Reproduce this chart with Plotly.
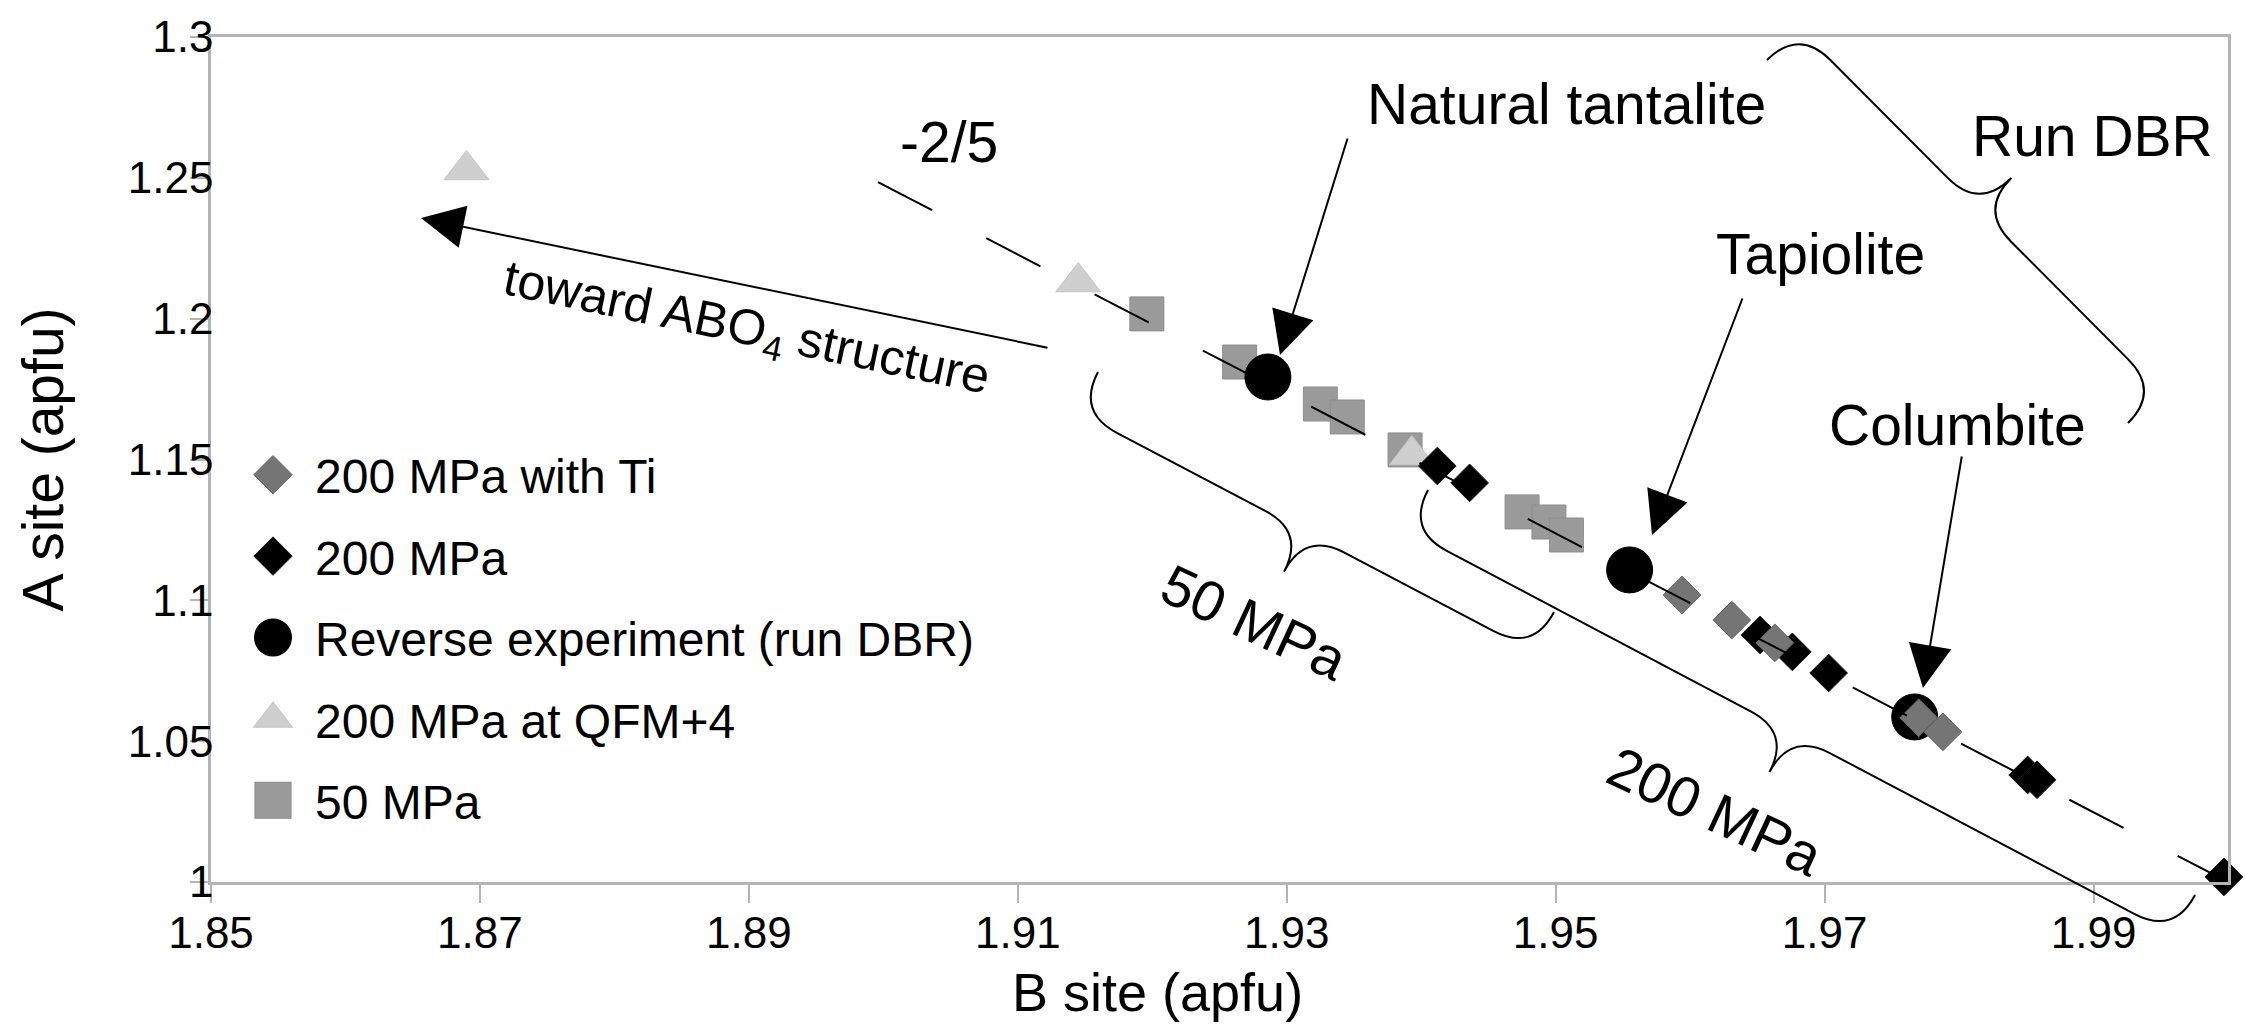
import math
import plotly.graph_objects as go

# ---------------- data ----------------
x_tick_vals = [1.85, 1.87, 1.89, 1.91, 1.93, 1.95, 1.97, 1.99]
x_tick_text = ["1.85", "1.87", "1.89", "1.91", "1.93", "1.95", "1.97", "1.99"]
y_tick_vals = [1.0, 1.05, 1.1, 1.15, 1.2, 1.25, 1.3]
y_tick_text = ["1", "1.05", "1.1", "1.15", "1.2", "1.25", "1.3"]

ti_B = [1.9594, 1.9631, 1.9663, 1.9770, 1.9788]
ti_A = [1.1019, 1.0930, 1.0849, 1.0583, 1.0533]

mpa200_B = [1.9412, 1.9436, 1.9652, 1.9676, 1.9703, 1.9851, 1.9858, 1.9997]
mpa200_A = [1.1477, 1.1417, 1.0877, 1.0817, 1.0742, 1.0380, 1.0363, 1.0018]

rev_B = [1.9286, 1.9555, 1.9767]
rev_A = [1.1793, 1.1108, 1.0586]

qfm_B = [1.8690, 1.9145, 1.9393]
qfm_A = [1.2528, 1.2130, 1.1516]

mpa50_B = [1.9196, 1.9265, 1.9325, 1.9345, 1.9388, 1.9475, 1.9495, 1.9508]
mpa50_A = [1.2017, 1.1846, 1.1697, 1.1651, 1.1534, 1.1314, 1.1278, 1.1232]

# charge-balance reference line (slope label "-2/5")
line_B = [1.8996, 2.0]
line_A = [1.2485, 1.0]

FONT = "Liberation Sans, Arial, Helvetica, sans-serif"
AXIS_GREY = "#b4b4b4"

fig = go.Figure()

# markers (bottom to top)
fig.add_trace(go.Scatter(
    x=mpa50_B, y=mpa50_A, mode="markers", name="50 MPa", legendrank=5,
    legendgroup="g5", cliponaxis=False,
    marker=dict(symbol="square", size=34, color="#9a9a9a",
                line=dict(width=1, color="#8e8e8e"))))
fig.add_trace(go.Scatter(
    x=qfm_B, y=qfm_A, mode="markers", name="200 MPa at QFM+4", legendrank=4,
    legendgroup="g4", cliponaxis=False,
    marker=dict(symbol="triangle-up", size=39, color="#cfcfcf",
                line=dict(width=1, color="#c6c6c6"))))
fig.add_trace(go.Scatter(
    x=rev_B, y=rev_A, mode="markers", name="Reverse experiment (run DBR)",
    legendrank=3, legendgroup="g3", cliponaxis=False,
    marker=dict(symbol="circle", size=46, color="#000000",
                line=dict(width=1, color="#000000"))))
fig.add_trace(go.Scatter(
    x=mpa200_B, y=mpa200_A, mode="markers", name="200 MPa", legendrank=2,
    legendgroup="g2", cliponaxis=False,
    marker=dict(symbol="diamond", size=29, color="#000000",
                line=dict(width=1, color="#1a1a1a"))))
fig.add_trace(go.Scatter(
    x=ti_B, y=ti_A, mode="markers", name="200 MPa with Ti", legendrank=1,
    legendgroup="g1", cliponaxis=False,
    marker=dict(symbol="diamond", size=29, color="#757575",
                line=dict(width=1, color="#666666"))))
# dashed reference line drawn over the markers
fig.add_trace(go.Scatter(
    x=line_B, y=line_A, mode="lines", showlegend=False, hoverinfo="skip",
    line=dict(color="#000000", width=2, dash="61px,61px")))

# ---------------- geometry helpers for annotations ----------------
XL, XR, YT, YB = 211, 2228, 37, 882


def pp(x, y):
    """pixel -> paper"""
    return (x - XL) / (XR - XL), (YB - y) / (YB - YT)


def brace(p1, p2, side, depth=90):
    x1, y1 = p1
    x2, y2 = p2
    L = math.hypot(x2 - x1, y2 - y1)
    ux, uy = (x2 - x1) / L, (y2 - y1) / L
    nx, ny = -uy * side, ux * side
    q = depth / 2
    mx, my = (x1 + x2) / 2, (y1 + y2) / 2

    def P(x, y):
        a, b = pp(x, y)
        return f"{a:.5f},{b:.5f}"

    s = "M" + P(x1, y1)
    s += " Q" + P(x1 + nx * q, y1 + ny * q) + " " + P(x1 + ux * q + nx * q, y1 + uy * q + ny * q)
    s += " L" + P(mx - ux * q + nx * q, my - uy * q + ny * q)
    s += " Q" + P(mx + nx * q, my + ny * q) + " " + P(mx + nx * depth, my + ny * depth)
    s += " Q" + P(mx + nx * q, my + ny * q) + " " + P(mx + ux * q + nx * q, my + uy * q + ny * q)
    s += " L" + P(x2 - ux * q + nx * q, y2 - uy * q + ny * q)
    s += " Q" + P(x2 + nx * q, y2 + ny * q) + " " + P(x2, y2)
    return s


shapes = []
for p1, p2, side in [((1098, 372), (1554, 612), 1),
                     ((1428, 490), (2195, 895), 1),
                     ((1767, 60), (2128, 423), -1)]:
    shapes.append(dict(type="path", xref="paper", yref="paper",
                       path=brace(p1, p2, side),
                       line=dict(color="black", width=2), layer="above"))

annotations = []


def text(t, x, y, size=57, angle=0):
    a, b = pp(x, y)
    annotations.append(dict(text=t, x=a, y=b, xref="paper", yref="paper",
                            showarrow=False, textangle=angle,
                            xanchor="center", yanchor="middle",
                            font=dict(size=size, family=FONT, color="black")))


def arrow(tip, tail):
    a, b = pp(*tip)
    annotations.append(dict(text="", x=a, y=b, xref="paper", yref="paper",
                            showarrow=True, arrowhead=2, arrowsize=4.3,
                            arrowwidth=2, arrowcolor="black",
                            ax=tail[0] - tip[0], ay=tail[1] - tip[1],
                            font=dict(size=1)))


text("-2/5", 949, 142)
text("Natural tantalite", 1566, 104)
text("Tapiolite", 1820, 254)
text("Columbite", 1957, 425)
text("Run DBR", 2092, 136)
text("toward ABO<sub>4</sub> structure", 746, 330, size=50, angle=11.7)
text("50 MPa", 1254, 622, angle=25)
text("200 MPa", 1715, 811, angle=25)
# x-axis title (sits left of the plot centre in the reference)
text("B site (apfu)", 1157, 992, size=54)

arrow((421, 218), (1049, 348))
arrow((1280, 355), (1348, 137))
arrow((1652, 535), (1743, 297))
arrow((1923, 688), (1962, 455))

axis_common = dict(showline=True, linecolor=AXIS_GREY, linewidth=2.5,
                   mirror=True, ticks="outside", ticklen=18, tickwidth=2,
                   tickcolor=AXIS_GREY, showgrid=False, zeroline=False,
                   tickfont=dict(size=44, family=FONT, color="black"))

fig.update_layout(
    width=2245, height=1030,
    margin=dict(l=XL, r=2245 - XR, t=YT, b=1030 - YB),
    paper_bgcolor="white", plot_bgcolor="white",
    font=dict(family=FONT, color="black"),
    xaxis=dict(range=[1.85, 2.0], tickvals=x_tick_vals, ticktext=x_tick_text,
               ticklabelstandoff=-8, **axis_common),
    yaxis=dict(range=[1.0, 1.3], tickvals=y_tick_vals, ticktext=y_tick_text,
               ticklabelstandoff=-32,
               title=dict(text="A site (apfu)", font=dict(size=57, family=FONT),
                          standoff=46),
               **axis_common),
    showlegend=True,
    legend=dict(x=pp(231, 0)[0], y=pp(0, 437)[1], xanchor="left", yanchor="top",
                bgcolor="rgba(0,0,0,0)", traceorder="grouped",
                tracegroupgap=16, itemwidth=74,
                font=dict(size=48, family=FONT, color="black")),
    shapes=shapes,
    annotations=annotations,
)

# enlarge the legend swatches to the size used in the reference
post = """
var gd = document.getElementById('{plot_id}');
var scales = [1.85, 1.85, 2.3, 2.1, 2.25];
function grow() {
  var items = gd.querySelectorAll('g.legend g.traces');
  items.forEach(function (it, i) {
    it.querySelectorAll('g.legendpoints path.scatterpts').forEach(function (p) {
      if (!p.hasAttribute('data-t0')) p.setAttribute('data-t0', p.getAttribute('transform') || '');
      p.setAttribute('transform', p.getAttribute('data-t0') + ' scale(' + (scales[i] || 2) + ')');
      p.style.strokeWidth = '0.5px';
    });
  });
}
grow();
setTimeout(grow, 30);
gd.on('plotly_afterplot', grow);
"""

fig.write_html("out.html", post_script=post)
